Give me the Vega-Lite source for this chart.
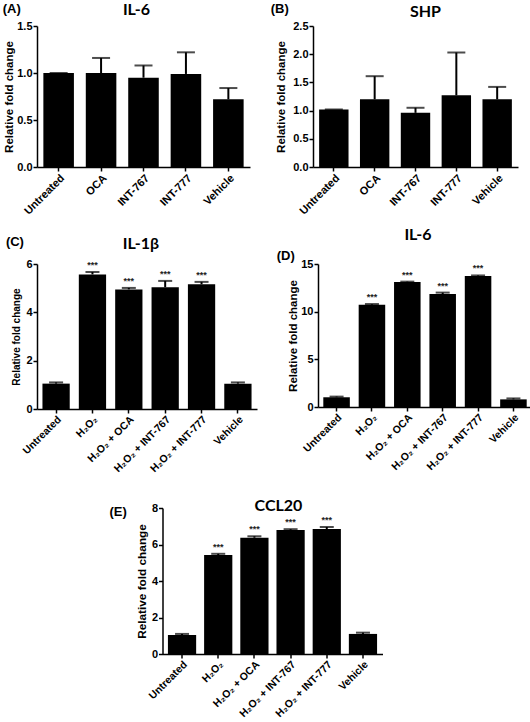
{
  "$schema": "https://vega.github.io/schema/vega-lite/v6.json",
  "background": "white",
  "padding": {"left": 2, "top": 2, "right": 0, "bottom": 0},
  "config": {
    "view": {"stroke": null},
    "axis": {"domainColor": "black", "domainWidth": 1.5, "tickColor": "black", "tickWidth": 1.5, "tickSize": 4, "labelFont": "Liberation Sans", "labelFontWeight": "bold", "labelFontSize": 11, "labelColor": "black", "titleFont": "Liberation Sans", "titleFontWeight": "bold", "titleFontSize": 11.5, "titleColor": "black", "grid": false, "labelPadding": 1, "titlePadding": 2},
    "axisX": {"labelAngle": -45},
    "axisY": {"labelOverlap": false},
    "title": {"font": "Lato", "fontWeight": "bold", "fontSize": 16, "color": "black"}
  },
  "vconcat": [
    {
      "vconcat": [
        {
          "hconcat": [
            {
              "title": {"text": "(A)", "anchor": "start", "frame": "bounds", "font": "Liberation Sans", "fontSize": 13, "offset": -14, "dx": -1},
              "vconcat": [
                {
                  "width": 213, "height": 141,
                  "title": {"text": "IL-6", "offset": 2, "frame": "group", "anchor": "middle", "dx": -7},
                  "data": {"values": [
                    {"group": "Untreated", "value": 1.0, "err": 1.0, "sig": ""},
                    {"group": "OCA", "value": 1.0, "err": 1.16, "sig": ""},
                    {"group": "INT-767", "value": 0.95, "err": 1.08, "sig": ""},
                    {"group": "INT-777", "value": 0.99, "err": 1.22, "sig": ""},
                    {"group": "Vehicle", "value": 0.72, "err": 0.84, "sig": ""}
                  ]},
                  "encoding": {"x": {"field": "group", "type": "nominal", "sort": null, "title": null, "scale": {"paddingInner": 0.28, "paddingOuter": 0.15}}},
                  "layer": [
                    {"mark": {"type": "bar", "color": "black"}, "encoding": {"y": {"field": "value", "type": "quantitative", "title": "Relative fold change", "scale": {"domain": [0, 1.5], "nice": false}, "axis": {"values": [0, 0.5, 1, 1.5], "tickCount": 10, "format": ".1f", "titlePadding": 2}}}},
                    {"mark": {"type": "rule", "color": "black", "strokeWidth": 2}, "encoding": {"y": {"field": "value", "type": "quantitative"}, "y2": {"field": "err"}}},
                    {"mark": {"type": "tick", "color": "black", "thickness": 2, "size": 18}, "encoding": {"y": {"field": "err", "type": "quantitative"}}}
                  ]
                }
              ]
            },
            {
              "title": {"text": "(B)", "anchor": "start", "frame": "bounds", "font": "Liberation Sans", "fontSize": 13, "offset": -12, "dx": -5},
              "vconcat": [
                {
                  "width": 205, "height": 141,
                  "title": {"text": "SHP", "offset": 0, "frame": "group", "anchor": "middle", "dx": 10},
                  "data": {"values": [
                    {"group": "Untreated", "value": 1.02, "err": 1.02, "sig": ""},
                    {"group": "OCA", "value": 1.2, "err": 1.61, "sig": ""},
                    {"group": "INT-767", "value": 0.96, "err": 1.05, "sig": ""},
                    {"group": "INT-777", "value": 1.27, "err": 2.03, "sig": ""},
                    {"group": "Vehicle", "value": 1.2, "err": 1.42, "sig": ""}
                  ]},
                  "encoding": {"x": {"field": "group", "type": "nominal", "sort": null, "title": null, "scale": {"paddingInner": 0.28, "paddingOuter": 0.15}}},
                  "layer": [
                    {"mark": {"type": "bar", "color": "black"}, "encoding": {"y": {"field": "value", "type": "quantitative", "title": "Relative fold change", "scale": {"domain": [0, 2.5], "nice": false}, "axis": {"values": [0, 0.5, 1, 1.5, 2, 2.5], "tickCount": 10, "format": ".1f", "titlePadding": 6}}}},
                    {"mark": {"type": "rule", "color": "black", "strokeWidth": 2}, "encoding": {"y": {"field": "value", "type": "quantitative"}, "y2": {"field": "err"}}},
                    {"mark": {"type": "tick", "color": "black", "thickness": 2, "size": 18}, "encoding": {"y": {"field": "err", "type": "quantitative"}}}
                  ]
                }
              ]
            }
          ],
          "spacing": 20
        },
        {
          "hconcat": [
            {
              "title": {"text": "(C)", "anchor": "start", "frame": "bounds", "font": "Liberation Sans", "fontSize": 13, "offset": -13, "dx": -6},
              "vconcat": [
                {
                  "width": 220, "height": 145,
                  "title": {"text": "IL-1β", "offset": 6, "frame": "group", "anchor": "middle", "dx": -6},
                  "data": {"values": [
                    {"group": "Untreated", "value": 1.05, "err": 1.1, "sig": ""},
                    {"group": "H₂O₂", "value": 5.57, "err": 5.67, "sig": "***"},
                    {"group": "H₂O₂ + OCA", "value": 4.95, "err": 5.01, "sig": "***"},
                    {"group": "H₂O₂ + INT-767", "value": 5.04, "err": 5.3, "sig": "***"},
                    {"group": "H₂O₂ + INT-777", "value": 5.16, "err": 5.26, "sig": "***"},
                    {"group": "Vehicle", "value": 1.05, "err": 1.1, "sig": ""}
                  ]},
                  "encoding": {"x": {"field": "group", "type": "nominal", "sort": null, "title": null, "scale": {"paddingInner": 0.25, "paddingOuter": 0.15}, "axis": {"labelFontSize": 10.5}}},
                  "layer": [
                    {"mark": {"type": "bar", "color": "black"}, "encoding": {"y": {"field": "value", "type": "quantitative", "title": "Relative fold change", "scale": {"domain": [0, 6], "nice": false}, "axis": {"values": [0, 2, 4, 6], "tickCount": 10, "format": "d", "titlePadding": 4, "titleFontSize": 10}}}},
                    {"mark": {"type": "rule", "color": "black", "strokeWidth": 2}, "encoding": {"y": {"field": "value", "type": "quantitative"}, "y2": {"field": "err"}}},
                    {"mark": {"type": "tick", "color": "black", "thickness": 2, "size": 14}, "encoding": {"y": {"field": "err", "type": "quantitative"}}},
                    {"mark": {"type": "text", "font": "Liberation Sans", "fontSize": 9, "fontWeight": "bold", "color": "#222", "baseline": "bottom", "dy": -2}, "encoding": {"y": {"field": "err", "type": "quantitative"}, "text": {"field": "sig"}}}
                  ]
                }
              ]
            },
            {
              "title": {"text": "(D)", "anchor": "start", "frame": "bounds", "font": "Liberation Sans", "fontSize": 13, "offset": -36, "dx": -11},
              "vconcat": [
                {
                  "width": 214, "height": 143,
                  "title": {"text": "IL-6", "offset": 15, "frame": "group", "anchor": "middle", "dx": -7},
                  "data": {"values": [
                    {"group": "Untreated", "value": 1.02, "err": 1.09, "sig": ""},
                    {"group": "H₂O₂", "value": 10.73, "err": 10.8, "sig": "***"},
                    {"group": "H₂O₂ + OCA", "value": 13.1, "err": 13.15, "sig": "***"},
                    {"group": "H₂O₂ + INT-767", "value": 11.85, "err": 12.0, "sig": "***"},
                    {"group": "H₂O₂ + INT-777", "value": 13.74, "err": 13.8, "sig": "***"},
                    {"group": "Vehicle", "value": 0.8, "err": 0.9, "sig": ""}
                  ]},
                  "encoding": {"x": {"field": "group", "type": "nominal", "sort": null, "title": null, "scale": {"paddingInner": 0.25, "paddingOuter": 0.15}, "axis": {"labelFontSize": 10.5}}},
                  "layer": [
                    {"mark": {"type": "bar", "color": "black"}, "encoding": {"y": {"field": "value", "type": "quantitative", "title": "Relative fold change", "scale": {"domain": [0, 15], "nice": false}, "axis": {"values": [0, 5, 10, 15], "tickCount": 10, "format": "d", "titlePadding": 2}}}},
                    {"mark": {"type": "rule", "color": "black", "strokeWidth": 2}, "encoding": {"y": {"field": "value", "type": "quantitative"}, "y2": {"field": "err"}}},
                    {"mark": {"type": "tick", "color": "black", "thickness": 2, "size": 14}, "encoding": {"y": {"field": "err", "type": "quantitative"}}},
                    {"mark": {"type": "text", "font": "Liberation Sans", "fontSize": 9, "fontWeight": "bold", "color": "#222", "baseline": "bottom", "dy": -2}, "encoding": {"y": {"field": "err", "type": "quantitative"}, "text": {"field": "sig"}}}
                  ]
                }
              ]
            }
          ],
          "spacing": 19
        }
      ],
      "spacing": 10
    },
    {
      "title": {"text": "(E)", "anchor": "start", "frame": "bounds", "font": "Liberation Sans", "fontSize": 13, "offset": -21, "dx": -27},
      "vconcat": [
        {
          "width": 244, "height": 146,
          "title": {"text": "CCL20", "offset": -12, "dx": -6, "frame": "group", "anchor": "middle"},
          "data": {"values": [
            {"group": "Untreated", "value": 1.04, "err": 1.1, "sig": ""},
            {"group": "H₂O₂", "value": 5.42, "err": 5.49, "sig": "***"},
            {"group": "H₂O₂ + OCA", "value": 6.37, "err": 6.45, "sig": "***"},
            {"group": "H₂O₂ + INT-767", "value": 6.79, "err": 6.84, "sig": "***"},
            {"group": "H₂O₂ + INT-777", "value": 6.85, "err": 6.96, "sig": "***"},
            {"group": "Vehicle", "value": 1.1, "err": 1.17, "sig": ""}
          ]},
          "encoding": {"x": {"field": "group", "type": "nominal", "sort": null, "title": null, "scale": {"paddingInner": 0.22, "paddingOuter": 0.15, "range": [0, 220]}, "axis": {"labelFontSize": 10.5}}},
          "layer": [
            {"mark": {"type": "bar", "color": "black"}, "encoding": {"y": {"field": "value", "type": "quantitative", "title": "Relative fold change", "scale": {"domain": [0, 8], "nice": false}, "axis": {"values": [0, 2, 4, 6, 8], "tickCount": 10, "format": "d", "titlePadding": 4, "titleFontSize": 11.8}}}},
            {"mark": {"type": "rule", "color": "black", "strokeWidth": 2}, "encoding": {"y": {"field": "value", "type": "quantitative"}, "y2": {"field": "err"}}},
            {"mark": {"type": "tick", "color": "black", "thickness": 2, "size": 14}, "encoding": {"y": {"field": "err", "type": "quantitative"}}},
            {"mark": {"type": "text", "font": "Liberation Sans", "fontSize": 9, "fontWeight": "bold", "color": "#222", "baseline": "bottom", "dy": -2}, "encoding": {"y": {"field": "err", "type": "quantitative"}, "text": {"field": "sig"}}}
          ]
        }
      ]
    }
  ],
  "spacing": 23,
  "center": true
}
